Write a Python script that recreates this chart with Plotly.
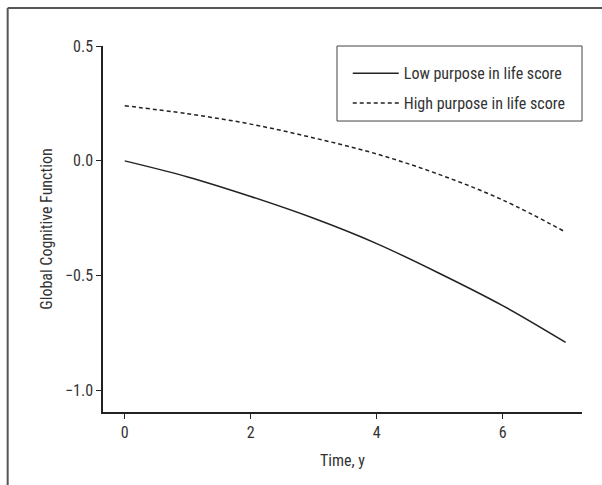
import plotly.graph_objects as go

years = [0, 1, 2, 3, 4, 5, 6, 7]
low_purpose = [0.0, -0.07, -0.155, -0.25, -0.36, -0.49, -0.63, -0.79]
high_purpose = [0.24, 0.205, 0.16, 0.10, 0.03, -0.06, -0.17, -0.31]
x_ticks = [0, 2, 4, 6]
y_ticks = [0.5, 0.0, -0.5, -1.0]
y_tick_labels = ["0.5", "0.0", "\u22120.5", "\u22121.0"]

FONT = "Liberation Sans Narrow, Arial Narrow, Roboto Condensed, Liberation Sans, sans-serif"
INK = "#333333"

fig = go.Figure()
fig.add_trace(go.Scatter(x=years, y=low_purpose, mode="lines", name="Low purpose in life score",
                         legendgroup="a",
                         line=dict(color="#222222", width=1.5, shape="spline")))
fig.add_trace(go.Scatter(x=years, y=high_purpose, mode="lines", name="High purpose in life score",
                         legendgroup="b",
                         line=dict(color="#222222", width=1.5, dash="4px,3px", shape="spline")))

fig.update_layout(
    width=602, height=485,
    margin=dict(l=103, r=20, t=46, b=73),
    paper_bgcolor="white", plot_bgcolor="white",
    font=dict(family=FONT, size=16, color=INK),
    showlegend=True,
    legend=dict(x=0.511, y=0.972, xanchor="left", yanchor="top",
                borderwidth=0, bgcolor="rgba(0,0,0,0)",
                font=dict(family=FONT, size=16, color=INK),
                tracegroupgap=6, itemwidth=46),
    shapes=[
        # legend box
        dict(type="rect", xref="paper", yref="paper",
             x0=0.4885, x1=1.0, y0=0.795, y1=1.0,
             line=dict(color="#444444", width=1), fillcolor="rgba(0,0,0,0)", layer="below"),
        # outer frame (left and top edges)
        dict(type="line", xref="paper", yref="paper",
             x0=-0.199, x1=-0.199, y0=-0.3, y1=1.104,
             line=dict(color="#555555", width=2)),
        dict(type="line", xref="paper", yref="paper",
             x0=-0.199, x1=1.2, y0=1.104, y1=1.104,
             line=dict(color="#555555", width=2)),
    ],
)
fig.update_xaxes(range=[-0.345, 7.26], tickvals=x_ticks, ticks="outside", ticklen=5,
                 tickcolor="#222222", showline=True, linecolor="#222222", linewidth=1.5,
                 showgrid=False, zeroline=False,
                 title=dict(text="Time, y", standoff=14, font=dict(size=16)))
fig.update_yaxes(range=[-1.093, 0.5], tickvals=y_ticks, ticktext=y_tick_labels,
                 ticks="outside", ticklen=5, tickcolor="#222222",
                 showline=True, linecolor="#222222", linewidth=1.5,
                 showgrid=False, zeroline=False,
                 title=dict(text="Global Cognitive Function", standoff=8, font=dict(size=16)))

fig.write_html("out.html")
